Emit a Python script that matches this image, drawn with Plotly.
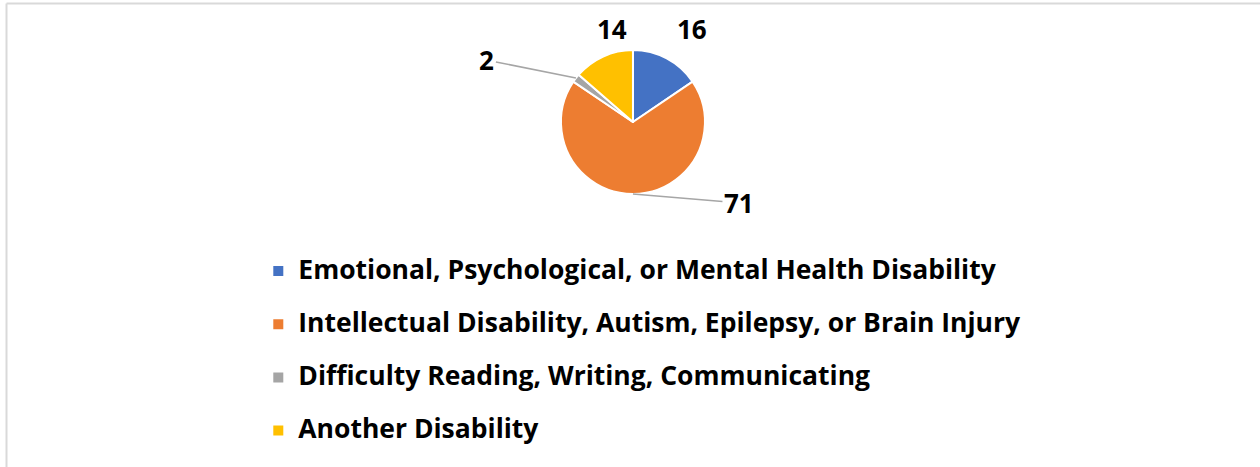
import math

import plotly.graph_objects as go

# ── data ──────────────────────────────────────────────────────────────────────
categories = [
    "Emotional, Psychological, or Mental Health Disability",
    "Intellectual Disability, Autism, Epilepsy, or Brain Injury",
    "Difficulty Reading, Writing, Communicating",
    "Another Disability",
]
counts = [16, 71, 2, 14]
slice_colors = ["#4472C4", "#ED7D31", "#A5A5A5", "#FFC000"]

# ── layout settings ───────────────────────────────────────────────────────────
W, H = 1260, 467
FONT = "Open Sans, Noto Sans, sans-serif"
PIE_X = [0.4452, 0.5595]
PIE_Y = [0.5846, 0.8929]

# data-label offsets (px) from the slice edge, as dragged in the original,
# and whether a leader line is drawn
label_offsets = [(25, -29), (106, 9), (-89, -18), (9, -27)]
label_leader = [False, True, True, False]

# legend entries: larger text in a span, blank second line gives the row spacing
legend_labels = [
    f"<span style='font-size:26.5px'>{c}</span><br> " for c in categories
]

fig = go.Figure()
fig.add_trace(go.Pie(
    labels=legend_labels,
    values=counts,
    sort=False,
    direction="clockwise",
    rotation=0,
    marker=dict(colors=slice_colors, line=dict(color="white", width=2)),
    textinfo="none",
    domain=dict(x=PIE_X, y=PIE_Y),
    hoverinfo="skip",
))

# data labels, anchored on the slice edge at each slice's mid angle
cx = sum(PIE_X) / 2 * W
cy = (1 - sum(PIE_Y) / 2) * H
radius = min((PIE_X[1] - PIE_X[0]) * W, (PIE_Y[1] - PIE_Y[0]) * H) / 2
total = sum(counts)
cum = 0
for val, (ox, oy), leader in zip(counts, label_offsets, label_leader):
    mid = (cum + val / 2) / total * 2 * math.pi
    cum += val
    px = cx + radius * math.sin(mid)
    py = cy - radius * math.cos(mid)
    fig.add_annotation(
        x=px / W, y=1 - py / H, xref="paper", yref="paper",
        text=str(val),
        showarrow=True, ax=ox, ay=oy, axref="pixel", ayref="pixel",
        arrowhead=0, arrowwidth=1.5, standoff=0, startstandoff=0,
        arrowcolor="#A6A6A6" if leader else "rgba(0,0,0,0)",
        font=dict(family=FONT, size=26, color="#000000", weight="bold"),
    )

fig.update_layout(
    width=W,
    height=H,
    margin=dict(l=0, r=0, t=0, b=0, autoexpand=False),
    paper_bgcolor="white",
    plot_bgcolor="white",
    font=dict(family=FONT, color="#000000"),
    legend=dict(
        orientation="v",
        x=0.205, xanchor="left",
        y=0.4604, yanchor="top",
        valign="top",
        font=dict(family=FONT, size=19.3, color="#000000", weight="bold"),
        bgcolor="rgba(0,0,0,0)",
    ),
    showlegend=True,
)

# light grey chart-area frame (only the top and left edges are visible)
frame = dict(type="line", xref="paper", yref="paper",
             line=dict(color="#D9D9D9", width=2), layer="below")
fig.add_shape(x0=6.5 / W, x1=1, y0=1 - 3.5 / H, y1=1 - 3.5 / H, **frame)
fig.add_shape(x0=6.5 / W, x1=6.5 / W, y0=0, y1=1 - 3.5 / H, **frame)

fig.write_html(
    "out.html",
    config={"displayModeBar": False},
    post_script="document.body.style.margin = '0px';",
)
